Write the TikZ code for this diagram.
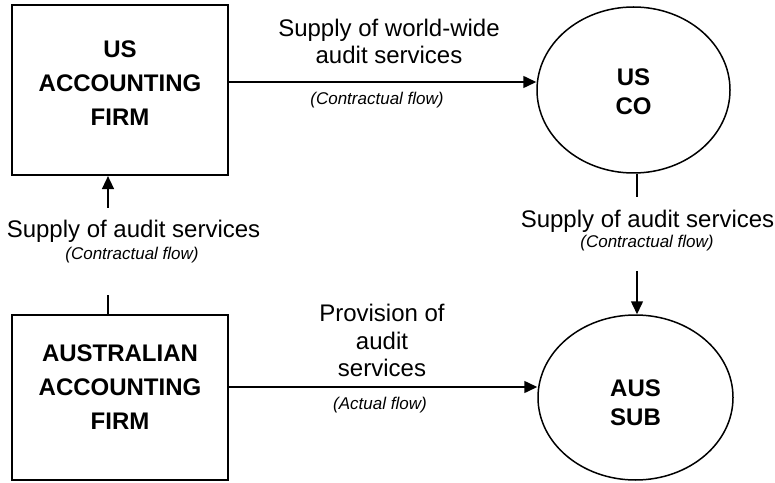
\documentclass[tikz,border=0pt]{standalone}
\usepackage{fontspec}
\setmainfont{Liberation Sans}
\usetikzlibrary{arrows.meta,shapes.geometric}
\begin{document}
\begin{tikzpicture}[x=1pt,y=1pt,
  firm/.style={draw, line width=2.2pt, minimum width=216pt, inner sep=0pt},
  co/.style={draw, ellipse, line width=1.5pt, inner sep=0pt},
  boxtxt/.style={font=\bfseries\fontsize{24}{34}\selectfont, align=center, inner sep=0pt},
  cotxt/.style={font=\bfseries\fontsize{24}{29}\selectfont, align=center, inner sep=0pt},
  lbl/.style={font=\fontsize{24}{27.5}\selectfont, align=center, inner sep=0pt},
  flow/.style={font=\itshape\fontsize{17}{20}\selectfont, inner sep=0pt},
  conn/.style={line width=1.5pt},
  arr/.style={conn, -{Triangle[length=13pt,width=12pt]}}]
\useasboundingbox (0,0) rectangle (775,482);
% nodes
\node[firm, minimum height=170pt] (usf) at (120,392) {};
\node[boxtxt] (usft) at (120,399) {US\\ACCOUNTING\\FIRM};
\node[firm, minimum height=165pt] (ausf) at (120,84.5) {};
\node[boxtxt] (ausft) at (120,95) {AUSTRALIAN\\ACCOUNTING\\FIRM};
\node[co, minimum width=193pt, minimum height=166pt] (usco) at (633.5,392) {};
\node[cotxt] (uscot) at (633.5,390) {US\\CO};
\node[co, minimum width=195pt, minimum height=165pt] (aussub) at (635.5,84.5) {};
\node[cotxt] (aussubt) at (635.5,79) {AUS\\SUB};
% labels
\node[lbl] (ltop) at (389,440.5) {Supply of world-wide\\audit services};
\node[flow] (ftop) at (377,382) {(Contractual flow)};
\node[lbl] (lbot) at (382,141.5) {Provision of\\audit\\services};
\node[flow] (fbot) at (380,77) {(Actual flow)};
\node[lbl] (lleft) at (133.5,251) {Supply of audit services};
\node[flow] (fleft) at (132,227) {(Contractual flow)};
\node[lbl] (lright) at (647.5,261) {Supply of audit services};
\node[flow] (fright) at (647,238.5) {(Contractual flow)};
% connectors
\draw[arr] ([yshift=8pt]usf.east) -- ([yshift=8pt]usco.west);
\draw[arr] ([yshift=10.5pt]ausf.east) -- ([yshift=10.5pt]aussub.west);
\coordinate (l1top) at (108,274);
\coordinate (l1bot) at (108,187);
\draw[arr] (l1top) -- (l1top |- usf.south);
\draw[conn] (ausf.north -| l1bot) -- (l1bot);
\coordinate (r1top) at (637,285);
\coordinate (r1bot) at (637,211);
\draw[conn] (usco.south -| r1top) -- (r1top);
\draw[arr] (r1bot) -- (r1bot |- aussub.north);
\end{tikzpicture}
\end{document}
